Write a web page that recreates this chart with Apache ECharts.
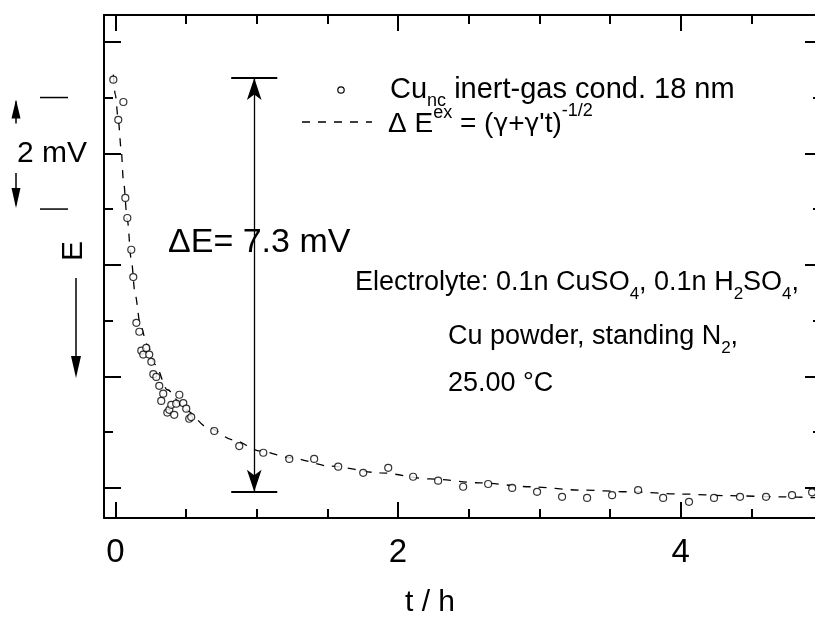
<!DOCTYPE html>
<html>
<head>
<meta charset="utf-8">
<script src="https://cdn.jsdelivr.net/npm/echarts@6/dist/echarts.min.js"></script>
<style>
  html, body { margin: 0; padding: 0; background: #fff; }
  #chart { width: 815px; height: 627px; }
</style>
</head>
<body>
<div id="chart"></div>
<script>
// measured points, t in h, E in mV (relative to the final plateau)
const tData = [-0.014, 0.021, 0.057, 0.071, 0.085, 0.113, 0.127, 0.149, 0.170, 0.184, 0.198, 0.219, 0.240,
  0.255, 0.269, 0.290, 0.311, 0.325, 0.339, 0.368, 0.382, 0.396, 0.417, 0.431, 0.453, 0.481, 0.502,
  0.523, 0.537, 0.700, 0.877, 1.047, 1.231, 1.407, 1.577, 1.754, 1.931, 2.107, 2.284, 2.461, 2.638,
  2.808, 2.984, 3.161, 3.338, 3.515, 3.699, 3.876, 4.059, 4.236, 4.420, 4.604, 4.788, 4.930]
const eData = [7.32, 6.60, 6.92, 5.20, 4.84, 4.27, 3.78, 2.96, 2.80, 2.46, 2.39, 2.51, 2.39,
  2.26, 2.04, 1.99, 1.83, 1.56, 1.69, 1.35, 1.40, 1.49, 1.31, 1.51, 1.67, 1.52, 1.42,
  1.24, 1.27, 1.02, 0.75, 0.63, 0.52, 0.52, 0.38, 0.27, 0.36, 0.20, 0.13, 0.02, 0.07,
  0.00, -0.07, -0.16, -0.18, -0.13, -0.04, -0.18, -0.25, -0.18, -0.16, -0.16, -0.13, -0.08]

// fitted curve
const fitT = [-0.014, 0.000, 0.021, 0.042, 0.057, 0.085, 0.113, 0.141, 0.177, 0.226, 0.283, 0.368,
  0.495, 0.651, 0.834, 1.025, 1.238, 1.520, 1.874, 2.228, 2.581, 2.935, 3.289, 3.642, 3.996,
  4.349, 4.703, 5.000]
const fitE = [7.41, 7.05, 6.60, 6.06, 5.52, 4.81, 4.09, 3.46, 2.92, 2.57, 2.21, 1.76,
  1.40, 1.09, 0.86, 0.66, 0.54, 0.39, 0.27, 0.16, 0.09, 0.02, -0.04, -0.07, -0.11,
  -0.14, -0.16, -0.18]

const xMajor = [0, 2, 4]
const xMinor = [0.5, 1, 1.5, 2.5, 3, 3.5, 4.5]
const yMajor = [0, 2, 4, 6, 8]
const yMinor = [1, 3, 5, 7]

// ΔE arrow and 2 mV scale bar (data units)
const arrowT = 0.983
const arrowTop = 7.35
const arrowBottom = -0.07
const barHalf = 0.163
const scaleTop = 7
const scaleBottom = 5

const FONT = '"Liberation Sans", Arial, Helvetica, sans-serif'
const black = '#000'

const chart = echarts.init(document.getElementById('chart'), null, { renderer: 'canvas' })

function xAx(pos, values, len, showLine, showLabel) {
  return {
    type: 'value', position: pos, min: -0.08, max: 5,
    axisLine: { show: showLine, onZero: false, lineStyle: { color: black, width: 2 } },
    axisTick: { show: true, inside: true, length: len, customValues: values, lineStyle: { color: black, width: 2 } },
    axisLabel: showLabel
      ? { show: true, customValues: values, color: black, fontSize: 33, fontFamily: FONT, margin: 18 }
      : { show: false },
    splitLine: { show: false }
  }
}
function yAx(pos, values, len, showLine) {
  return {
    type: 'value', position: pos, min: -0.54, max: 8.48,
    axisLine: { show: showLine, onZero: false, lineStyle: { color: black, width: 2 } },
    axisTick: { show: true, inside: true, length: len, customValues: values, lineStyle: { color: black, width: 2 } },
    axisLabel: { show: false },
    splitLine: { show: false }
  }
}

const xAxes = [
  xAx('bottom', xMajor, 16, true, true),
  xAx('bottom', xMinor, 9, false, false),
  xAx('top', xMajor, 16, true, false),
  xAx('top', xMinor, 9, false, false)
]

const yAxes = [
  yAx('left', yMajor, 17, true),
  yAx('left', yMinor, 9, false),
  yAx('right', yMajor, 17, true),
  yAx('right', yMinor, 9, false)
]

chart.setOption({
  animation: false,
  backgroundColor: '#fff',
  grid: { left: 104, top: 15, width: 718, height: 503, containLabel: false, outerBoundsMode: 'none' },
  xAxis: xAxes,
  yAxis: yAxes,
  series: [
    {
      name: 'fit',
      type: 'line',
      data: fitT.map((t, i) => [t, fitE[i]]),
      showSymbol: false,
      smooth: 0.3,
      smoothMonotone: 'x',
      lineStyle: { color: black, width: 1.3, type: [8, 8] },
      markLine: {
        silent: true,
        symbol: 'none',
        label: { show: false },
        lineStyle: { color: black, width: 1.3, type: 'solid' },
        data: [
          [
            { coord: [arrowT, arrowTop], symbol: 'arrow', symbolSize: [11, 22] },
            { coord: [arrowT, arrowBottom], symbol: 'arrow', symbolSize: [11, 22] }
          ],
          [
            { coord: [arrowT - barHalf, arrowTop], lineStyle: { width: 2 } },
            { coord: [arrowT + barHalf, arrowTop] }
          ],
          [
            { coord: [arrowT - barHalf, arrowBottom], lineStyle: { width: 2 } },
            { coord: [arrowT + barHalf, arrowBottom] }
          ]
        ]
      },
      z: 2
    },
    {
      name: 'Cu',
      type: 'scatter',
      data: tData.map((t, i) => [t, eData[i]]),
      symbol: 'circle',
      symbolSize: 7,
      itemStyle: { color: '#fff', borderColor: black, borderWidth: 1.2 },
      z: 3
    }
  ]
})

// text rows with sub/superscripts
const ctx = document.createElement('canvas').getContext('2d')
function textRow(x, y, pieces) {
  const out = []
  let cx = x
  pieces.forEach(p => {
    const size = p.size
    const fam = p.font || FONT
    ctx.font = size + 'px ' + fam
    out.push({
      type: 'text', x: cx, y: y + (p.dy || 0), silent: true,
      style: { text: p.t, fontSize: size, fontFamily: fam, fill: black, align: 'left', verticalAlign: 'middle' }
    })
    cx += ctx.measureText(p.t).width + (p.gap || 0)
  })
  return out
}

const yTopPx = chart.convertToPixel({ yAxisIndex: 0 }, scaleTop)
const yBotPx = chart.convertToPixel({ yAxisIndex: 0 }, scaleBottom)

const g = []
// legend
g.push({ type: 'circle', shape: { cx: 341, cy: 90, r: 3.2 }, style: { fill: '#fff', stroke: black, lineWidth: 1.2 } })
g.push(...textRow(390, 90, [
  { t: 'Cu', size: 29 }, { t: 'nc', size: 18, dy: 11 }, { t: ' inert-gas cond. 18 nm', size: 29 }
]))
g.push({ type: 'line', shape: { x1: 302, y1: 122, x2: 372, y2: 122 },
  style: { stroke: black, lineWidth: 1.3, lineDash: [8, 8] } })
const GREEK = '"DejaVu Sans", sans-serif'
g.push(...textRow(388, 124, [
  { t: 'Δ E', size: 28 }, { t: 'ex', size: 18, dy: -11 }, { t: ' = (', size: 28 },
  { t: 'γ', size: 25, font: GREEK }, { t: '+', size: 28 }, { t: 'γ', size: 25, font: GREEK },
  { t: '\'t)', size: 28 }, { t: '-1/2', size: 18, dy: -13 }
]))
// ΔE label
g.push(...textRow(168, 243, [{ t: 'ΔE= 7.3 mV', size: 34 }]))
// electrolyte
g.push(...textRow(355, 283, [
  { t: 'Electrolyte: 0.1n CuSO', size: 27 }, { t: '4', size: 17, dy: 11 }, { t: ', 0.1n H', size: 27 },
  { t: '2', size: 17, dy: 11 }, { t: 'SO', size: 27 }, { t: '4', size: 17, dy: 11 }, { t: ',', size: 27 }
]))
g.push(...textRow(448, 337, [
  { t: 'Cu powder, standing N', size: 27 }, { t: '2', size: 17, dy: 11 }, { t: ',', size: 27 }
]))
g.push(...textRow(448, 384, [{ t: '25.00 °C', size: 27 }]))

// axis title
g.push({ type: 'text', x: 430, y: 603, silent: true,
  style: { text: 't / h', fontSize: 30, fontFamily: FONT, fill: black, align: 'center', verticalAlign: 'middle' } })

// 2 mV scale bar at the left
g.push({ type: 'line', shape: { x1: 40, y1: yTopPx, x2: 68, y2: yTopPx }, style: { stroke: black, lineWidth: 1.5 } })
g.push({ type: 'line', shape: { x1: 40, y1: yBotPx, x2: 68, y2: yBotPx }, style: { stroke: black, lineWidth: 1.5 } })
g.push({ type: 'line', shape: { x1: 16, y1: yTopPx + 4, x2: 16, y2: yTopPx + 26 }, style: { stroke: black, lineWidth: 1.5 } })
g.push({ type: 'polygon', shape: { points: [[16, yTopPx + 2], [11.5, yTopPx + 21], [20.5, yTopPx + 21]] }, style: { fill: black } })
g.push({ type: 'line', shape: { x1: 16, y1: yBotPx - 36, x2: 16, y2: yBotPx - 4 }, style: { stroke: black, lineWidth: 1.5 } })
g.push({ type: 'polygon', shape: { points: [[16, yBotPx - 1], [11.5, yBotPx - 21], [20.5, yBotPx - 21]] }, style: { fill: black } })
g.push(...textRow(17, (yTopPx + yBotPx) / 2, [{ t: '2 mV', size: 30 }]))

// E with downward arrow
g.push({ type: 'text', x: 74, y: 251, rotation: Math.PI / 2, silent: true,
  style: { text: 'E', fontSize: 30, fontFamily: FONT, fill: black, align: 'center', verticalAlign: 'middle' } })
g.push({ type: 'line', shape: { x1: 76, y1: 278, x2: 76, y2: 360 }, style: { stroke: black, lineWidth: 1.5 } })
g.push({ type: 'polygon', shape: { points: [[76, 378], [71, 356], [81, 356]] }, style: { fill: black } })

chart.setOption({ graphic: g })
</script>
</body>
</html>
